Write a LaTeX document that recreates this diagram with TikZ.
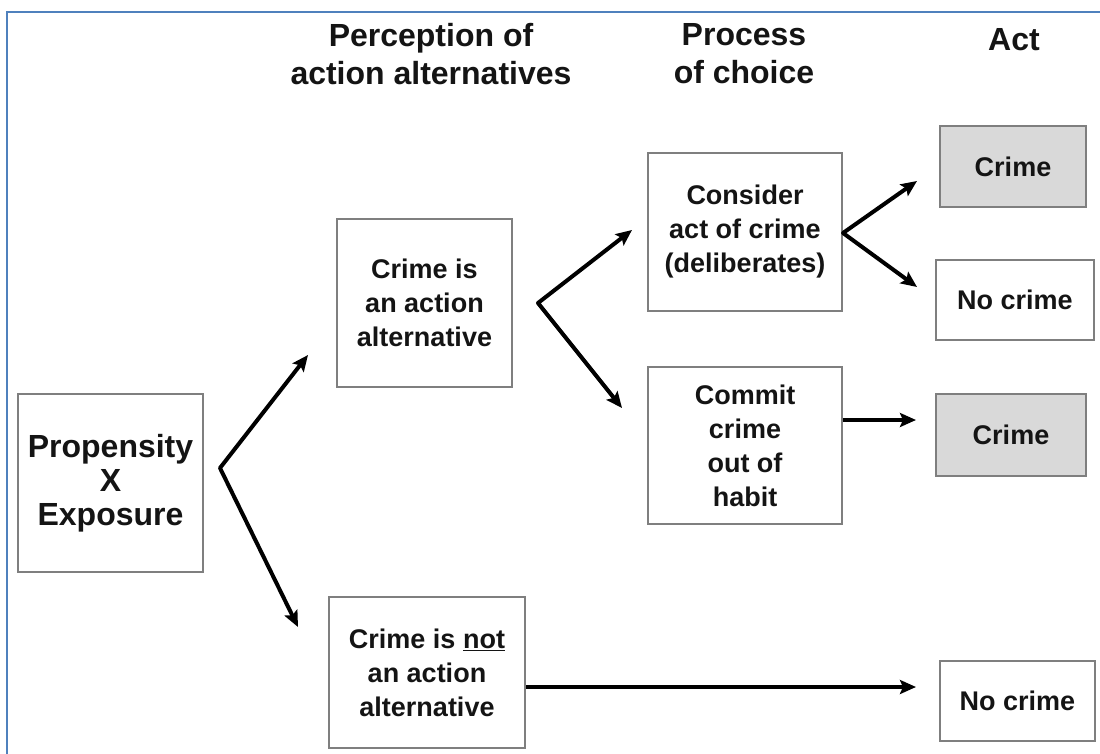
\documentclass[tikz,border=0pt]{standalone}
\usepackage{fontspec}
\setmainfont{Liberation Sans}
\usetikzlibrary{arrows.meta}
\definecolor{frameblue}{HTML}{4F81BD}
\definecolor{boxgray}{HTML}{7F7F7F}
\definecolor{fillgray}{HTML}{D9D9D9}
\definecolor{ink}{HTML}{141414}
\begin{document}
\begin{tikzpicture}[x=1pt,y=-1pt,
  box/.style={draw=boxgray, line width=2pt, inner sep=0pt, align=center,
    text=ink, font=\fontsize{27}{34}\selectfont\bfseries},
  shaded/.style={box, fill=fillgray},
  head/.style={align=center, text=ink, font=\fontsize{32}{38}\selectfont\bfseries},
  arr/.style={draw=black, line width=4pt, line join=round,
    -{Stealth[length=16pt,width=14pt,inset=3pt]}},
  fork/.style={draw=black, line width=4pt, line join=round,
    {Stealth[length=16pt,width=14pt,inset=3pt]}-{Stealth[length=16pt,width=14pt,inset=3pt]}},
]
\useasboundingbox (0,0) rectangle (1100,754);
% outer frame
\draw[frameblue, line width=2pt] (6.5,760) -- (6.5,12.5) -- (1106,12.5);

% column headings
\node[head] (h1) at (431,54) {Perception of\\action alternatives};
\node[head] (h2) at (744,54) {Process\\of choice};
\node[head] (h3) at (1014,40) {Act};

% boxes
\node[box, minimum width=185, minimum height=178, font=\fontsize{32}{34}\selectfont\bfseries]
  (prop) at (110.5,483) {Propensity\\X\\Exposure};
\node[box, minimum width=175, minimum height=168] (alt) at (424.5,303)
  {Crime is\\an action\\alternative};
\node[box, minimum width=196, minimum height=151] (notalt) at (427,672.5)
  {Crime is \underline{not}\\an action\\alternative};
\node[box, minimum width=194, minimum height=158] (consider) at (745,232)
  {Consider\\act of crime\\(deliberates)};
\node[box, minimum width=194, minimum height=157] (commit) at (745,445.5)
  {Commit\\crime\\out of\\habit};
\node[shaded, minimum width=146, minimum height=81] (crimeA) at (1013,166.5) {Crime};
\node[box, minimum width=158, minimum height=80] (nocrimeA) at (1015,300) {No crime};
\node[shaded, minimum width=150, minimum height=82] (crimeB) at (1011,435) {Crime};
\node[box, minimum width=155, minimum height=80] (nocrimeB) at (1017.5,700.5) {No crime};

% branch points and arrow tips
\coordinate (forkP) at (220,468);
\coordinate (toAlt) at (308,355);
\coordinate (toNot) at (298,627);
\coordinate (forkA) at (538,303);
\coordinate (toCons) at (632,230);
\coordinate (toHab) at (622,408);
\coordinate (forkC) at (843,233);
\coordinate (toCrA) at (917,181);
\coordinate (toNoA) at (917,287);
\coordinate (toCrB) at (916,420);
\coordinate (toNoB) at (916,687);

% connectors: each fork is one path with a tip at both ends
\draw[fork] (toAlt) -- (forkP) -- (toNot);
\draw[fork] (toCons) -- (forkA) -- (toHab);
\draw[fork] (toCrA) -- (forkC) -- (toNoA);
\draw[arr] (commit.east |- toCrB) -- (toCrB);
\draw[arr] (notalt.east |- toNoB) -- (toNoB);
\end{tikzpicture}
\end{document}
